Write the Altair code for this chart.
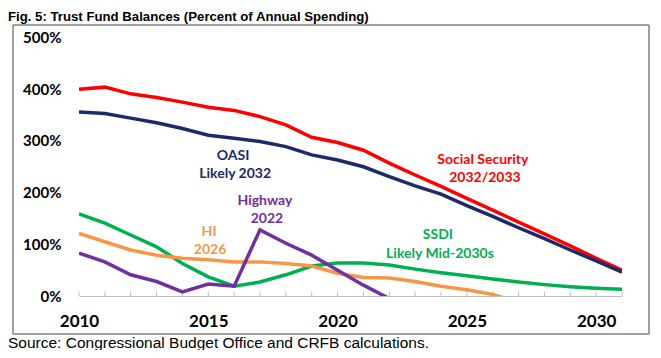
import altair as alt
import pandas as pd

years = list(range(2010, 2032))
social_security = [400, 404, 391, 384, 375, 365, 359, 347, 331, 307, 297, 282, 257, 234,
                   212, 189, 166, 143, 120, 97, 73, 50]
oasi = [356, 353, 344, 335, 324, 311, 305, 299, 289, 273, 263, 250, 231, 213,
        197, 175, 154, 132, 111, 89, 68, 46]
ssdi = [159, 141, 118, 95, 63, 37, 19, 27, 41, 58, 64, 64, 60, 52,
        45, 39, 33, 27, 22, 18, 15, 13]
hi_years = list(range(2010, 2028))
hi = [121, 105, 89, 79, 73, 70, 66, 66, 63, 58, 44, 36, 35, 28, 19, 12, 3, -12]
hw_years = list(range(2010, 2023))
highway = [83, 66, 41, 28, 8, 23, 19, 128, 102, 79, 50, 21, -5]

series_names = ["HI", "SSDI", "Highway", "OASI", "Social Security"]
series_colors = ["#F79646", "#00B050", "#7030A0", "#1C2A6B", "#FF0000"]

label_text = ["OASI", "Likely 2032", "Social Security", "2032/2033", "Highway", "2022",
              "HI", "2026", "SSDI", "Likely Mid-2030s"]
label_series = ["OASI", "OASI", "Social Security", "Social Security", "Highway", "Highway",
                "HI", "HI", "SSDI", "SSDI"]
label_x = [2015.96, 2016.04, 2025.62, 2025.7, 2017.19, 2017.27, 2015.03, 2015.07, 2023.88, 2023.96]
label_y = [270.8, 236, 263, 228, 183.8, 149, 123.8, 89, 118, 81]

y_ticks = [0, 100, 200, 300, 400, 500]
x_ticks = [2010, 2015, 2020, 2025, 2030]

title_text = "Fig. 5: Trust Fund Balances (Percent of Annual Spending)"
source_text = "Source: Congressional Budget Office and CRFB calculations."

rows = []
for name, xs, vs in [("Social Security", years, social_security), ("OASI", years, oasi),
                     ("SSDI", years, ssdi), ("HI", hi_years, hi), ("Highway", hw_years, highway)]:
    for x, v in zip(xs, vs):
        rows.append({"year": x, "value": v, "series": name})
df = pd.DataFrame(rows)
labels = pd.DataFrame({"year": label_x, "value": label_y, "series": label_series, "text": label_text})
ticks = pd.DataFrame({"year": years, "value": [0] * len(years), "top": [9] * len(years)})
one = pd.DataFrame({"a": [0]})

xscale = alt.Scale(domain=[2010, 2031], nice=False, zero=False)
yscale = alt.Scale(domain=[0, 500], nice=False)
xaxis = alt.Axis(values=x_ticks, format="d", title=None, grid=False, ticks=False,
                 domainColor="#bfbfbf", domainWidth=1, labelFont="Lato", labelFontWeight="bold",
                 labelFontSize=17, labelColor="black", labelPadding=17, labelFlush=False)
yaxis = alt.Axis(values=y_ticks, labelExpr="datum.value + '%'", title=None, grid=False,
                 ticks=False, domain=False, labelFont="Lato", labelFontWeight="bold",
                 labelFontSize=15, labelColor="black", labelPadding=18)
color = alt.Color("series:N", scale=alt.Scale(domain=series_names, range=series_colors), legend=None)

# outer frame (pixel positions relative to the plot area)
fx0, fx1, fy0, fy1 = -66, 570, -12.5, 296.5
frame_style = dict(color="#808080", strokeWidth=1.5)
frame = alt.layer(
    alt.Chart(one).mark_rule(**frame_style).encode(x=alt.value(fx0), x2=alt.value(fx1), y=alt.value(fy0)),
    alt.Chart(one).mark_rule(**frame_style).encode(x=alt.value(fx0), x2=alt.value(fx1), y=alt.value(fy1)),
    alt.Chart(one).mark_rule(**frame_style).encode(x=alt.value(fx0), y=alt.value(fy0), y2=alt.value(fy1)),
    alt.Chart(one).mark_rule(**frame_style).encode(x=alt.value(fx1), y=alt.value(fy0), y2=alt.value(fy1)),
)

tick_rules = alt.Chart(ticks).mark_rule(color="#bfbfbf", strokeWidth=1).encode(
    x=alt.X("year:Q", scale=xscale, axis=xaxis),
    y=alt.Y("value:Q", scale=yscale, axis=yaxis),
    y2="top:Q")

lines = alt.Chart(df).mark_line(strokeWidth=3.5, clip=True).encode(
    x=alt.X("year:Q", scale=xscale, axis=xaxis),
    y=alt.Y("value:Q", scale=yscale, axis=yaxis),
    color=color,
    order=alt.Order("year:Q"),
    detail="series:N")

texts = alt.Chart(labels).mark_text(font="Lato", fontWeight="bold", fontSize=14,
                                    baseline="middle", align="center").encode(
    x=alt.X("year:Q", scale=xscale, axis=xaxis),
    y=alt.Y("value:Q", scale=yscale, axis=yaxis),
    text="text:N",
    color=color)

title = alt.Chart(one).mark_text(text=title_text, font="Liberation Sans",
                                 fontWeight="bold", fontSize=13.2, align="left",
                                 baseline="alphabetic", color="black").encode(
    x=alt.value(-71), y=alt.value(-17))

source = alt.Chart(one).mark_text(text=source_text, font="Liberation Sans", fontSize=15.5,
                                  align="left", baseline="alphabetic", color="black").encode(
    x=alt.value(-71), y=alt.value(310.5))

chart = alt.layer(frame, tick_rules, lines, texts, title, source).properties(
    width=543, height=258.5,
    padding={"left": 71, "top": 29.5, "right": 31, "bottom": 54},
    autosize=alt.AutoSizeParams(type="none"),
    background="white",
).configure_view(stroke=None)

chart.save("out.html", embed_options={"renderer": "svg", "actions": False})
